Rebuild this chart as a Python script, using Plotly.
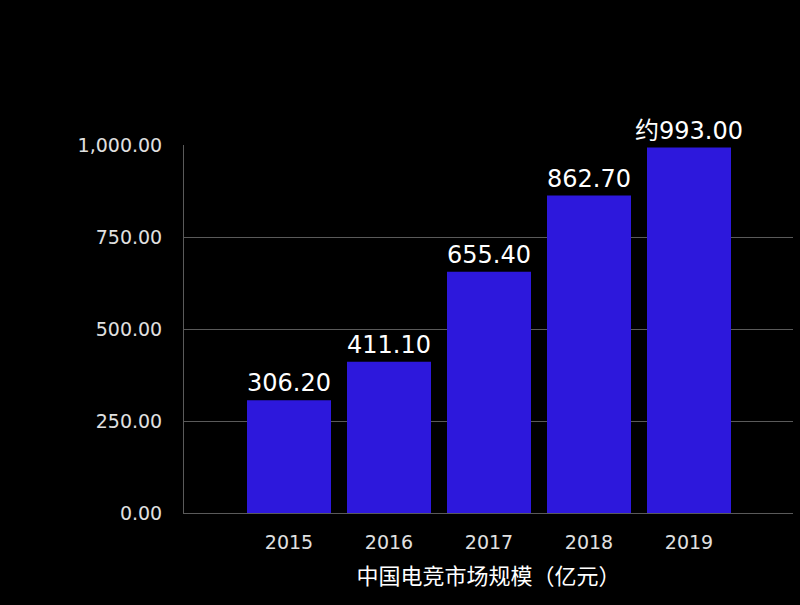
import plotly.graph_objects as go

years = ["2015", "2016", "2017", "2018", "2019"]
values = [306.2, 411.1, 655.4, 862.7, 993.0]
labels = ["306.20", "411.10", "655.40", "862.70", "约993.00"]
x_title = "中国电竞市场规模（亿元）"
y_ticks = [0, 250, 500, 750, 1000]

FONT = "DejaVu Sans, Noto Sans CJK SC"

fig = go.Figure(go.Bar(
    x=years, y=values, text=labels, textposition="outside",
    textfont=dict(color="#ffffff", size=24, family=FONT),
    marker=dict(color="#2D18DC", line=dict(width=0)),
    width=0.84, cliponaxis=False, constraintext="none",
))

fig.update_layout(
    width=800, height=605,
    paper_bgcolor="#000000", plot_bgcolor="#000000",
    margin=dict(l=184, r=7, t=145, b=92),
    showlegend=False,
    font=dict(family=FONT, color="#e6e6e6"),
    xaxis=dict(
        range=[-1.05, 5.04], showgrid=False, ticks="",
        tickfont=dict(size=19, color="#e0e0e0"), ticklabelstandoff=12,
        title=dict(text=x_title, font=dict(size=22, color="#ffffff",
                   family="Noto Sans CJK SC"), standoff=16),
        showline=True, linecolor="#5a5a5a", linewidth=1,
        automargin=False,
    ),
    yaxis=dict(
        range=[0, 1000], tickvals=y_ticks, tickformat=",.2f",
        gridcolor="#5a5a5a", gridwidth=1, zeroline=False,
        showline=True, linecolor="#5a5a5a", linewidth=1,
        tickfont=dict(size=19, color="#e0e0e0"), ticks="", ticklen=0,
        ticklabelstandoff=17,
        automargin=False,
    ),
)
fig.write_html("out.html", config={"displayModeBar": False},
               post_script="document.body.style.margin='0';document.body.style.background='#000';")
